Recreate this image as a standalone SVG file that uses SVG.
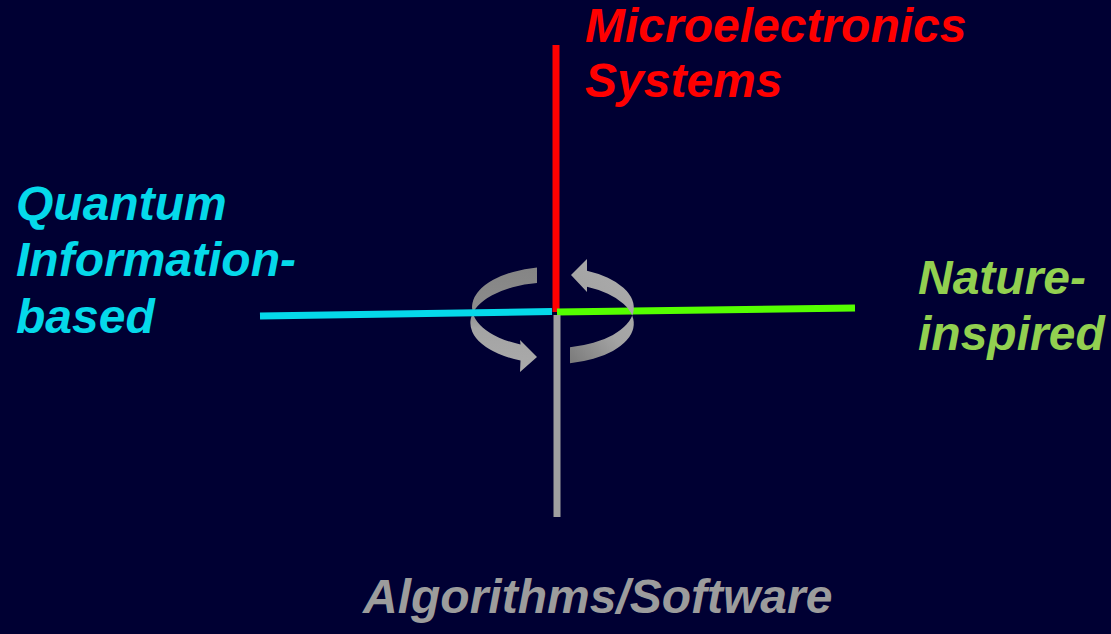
<svg xmlns="http://www.w3.org/2000/svg" width="1111" height="634" viewBox="0 0 1111 634">
  <style>
    .lbl { font-family: "Liberation Sans", Arial, sans-serif; font-weight: bold; font-style: italic; font-size: 48px; }
    .axis { stroke-width: 7; stroke-linecap: butt; fill: none; }
  </style>
  <defs>
    <linearGradient id="gLeft" x1="0" y1="0" x2="0" y2="1">
      <stop offset="0" stop-color="#858585"/>
      <stop offset="0.42" stop-color="#8c8c8c"/>
      <stop offset="0.58" stop-color="#a4a4a4"/>
      <stop offset="1" stop-color="#aaaaaa"/>
    </linearGradient>
    <linearGradient id="gRight" x1="0.7" y1="0" x2="0" y2="1">
      <stop offset="0" stop-color="#aaaaaa"/>
      <stop offset="0.5" stop-color="#a4a4a4"/>
      <stop offset="1" stop-color="#7a7a7a"/>
    </linearGradient>
  </defs>
  <rect width="1111" height="634" fill="#000033"/>

  <g id="rotation-left">
    <path d="M537,267.5 A80,40.5 0 0 0 520.5,344.5 L520,340 L537,357 L520,372 L520.5,360.5 A80,40.5 0 0 1 537,283 Z" fill="url(#gLeft)"/>
  </g>

  <g id="connectors">
    <line class="axis" x1="556" y1="45" x2="556" y2="312" stroke="#ff0000"/>
    <line class="axis" x1="260" y1="316" x2="552" y2="311.5" stroke="#05d9ea"/>
    <line class="axis" x1="557" y1="312" x2="855" y2="308" stroke="#55ff00"/>
    <line class="axis" x1="557" y1="315" x2="557" y2="517" stroke="#a0a0a0"/>
  </g>

  <g id="rotation-right">
    <path d="M570,363.3 A80,40.5 0 0 0 587,286.8 L587,292 L571,275 L587,259 L587,270.8 A80,40.5 0 0 1 570,347.3 Z" fill="url(#gRight)"/>
  </g>

  <g id="node-microelectronics">
    <text class="lbl" fill="#ff0000" x="585" y="42">Microelectronics</text>
    <text class="lbl" fill="#ff0000" x="585" y="97">Systems</text>
  </g>
  <g id="node-quantum">
    <text class="lbl" fill="#05d9ea" x="16" y="220">Quantum</text>
    <text class="lbl" fill="#05d9ea" x="16" y="276">Information-</text>
    <text class="lbl" fill="#05d9ea" x="16" y="333">based</text>
  </g>
  <g id="node-nature">
    <text class="lbl" fill="#92d050" x="918" y="294">Nature-</text>
    <text class="lbl" fill="#92d050" x="918" y="350">inspired</text>
  </g>
  <g id="node-algorithms">
    <text class="lbl" fill="#9c9c9c" x="363" y="613">Algorithms/Software</text>
  </g>
</svg>
